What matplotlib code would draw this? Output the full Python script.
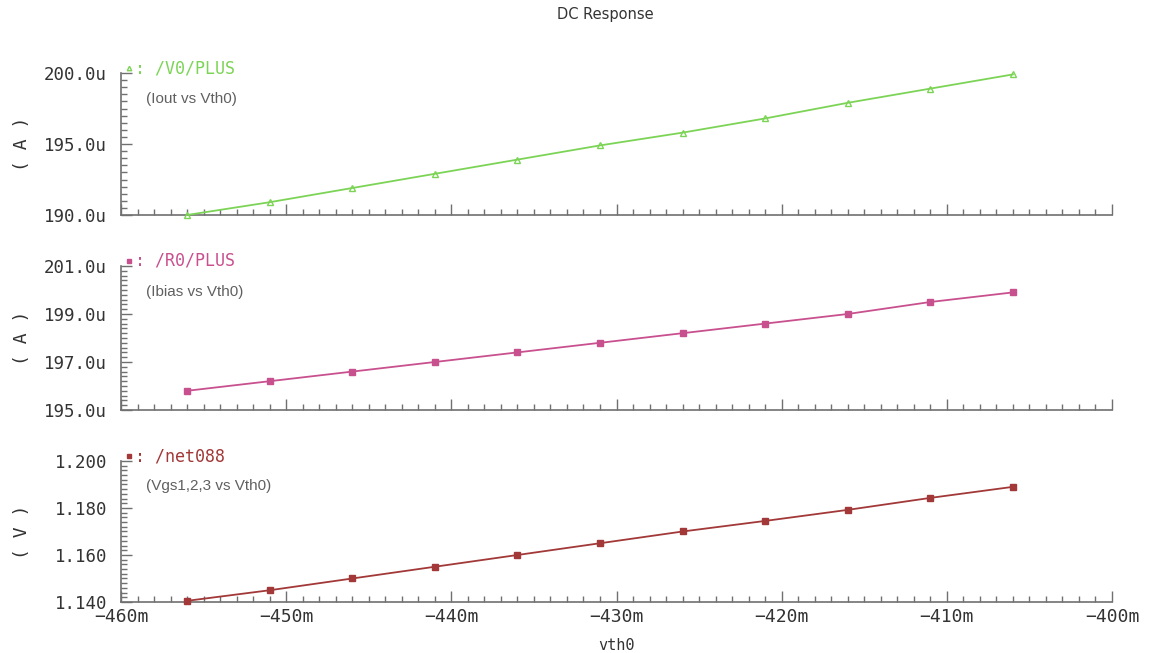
import matplotlib
matplotlib.use("Agg")
import matplotlib.pyplot as plt
from matplotlib.ticker import MultipleLocator, FixedLocator, FuncFormatter

# ---- data ----
vth0_mV = [-456, -451, -446, -441, -436, -431, -426, -421, -416, -411, -406]
iout_uA = [190.0, 190.9, 191.9, 192.9, 193.9, 194.9, 195.8, 196.8, 197.9, 198.9, 199.9]
ibias_uA = [195.8, 196.2, 196.6, 197.0, 197.4, 197.8, 198.2, 198.6, 199.0, 199.5, 199.9]
vgs_V = [1.1405, 1.1450, 1.1500, 1.1550, 1.1600, 1.1650, 1.1700, 1.1745, 1.1792, 1.1843, 1.1890]

x_ticks = [-460, -450, -440, -430, -420, -410, -400]
y_ticks_iout = [190.0, 195.0, 200.0]
y_ticks_ibias = [195.0, 197.0, 199.0, 201.0]
y_ticks_vgs = [1.14, 1.16, 1.18, 1.20]
legend_names = ["/V0/PLUS", "/R0/PLUS", "/net088"]
notes = ["(Iout vs Vth0)", "(Ibias vs Vth0)", "(Vgs1,2,3 vs Vth0)"]
units = ["( A )", "( A )", "( V )"]
colors = ["#7cd456", "#c9508e", "#a23838"]
markers = ["^", "s", "s"]

MONO = "DejaVu Sans Mono"

fig = plt.figure(figsize=(11.68, 6.53), dpi=100)
fig.patch.set_facecolor("white")

L = 121 / 1168
W = 991 / 1168
panels = [
    dict(top=73, bot=215, ylim=(190, 200), ticks=y_ticks_iout, minor=0.5,
         fmt=lambda v, p: f"{v:.1f}u", y=iout_uA),
    dict(top=266, bot=410, ylim=(195, 201), ticks=y_ticks_ibias, minor=0.2,
         fmt=lambda v, p: f"{v:.1f}u", y=ibias_uA),
    dict(top=461, bot=602, ylim=(1.14, 1.20), ticks=y_ticks_vgs, minor=0.002,
         fmt=lambda v, p: f"{v:.3f}", y=vgs_V),
]

spine_col = "#707070"
for i, pn in enumerate(panels):
    ax = fig.add_axes([L, 1 - pn["bot"] / 653, W, (pn["bot"] - pn["top"]) / 653])
    ax.set_xlim(-460, -400)
    ax.set_ylim(*pn["ylim"])
    ax.plot(vth0_mV, pn["y"], color=colors[i], lw=1.3, marker=markers[i],
            ms=3.8, mfc="none" if i == 0 else colors[i], mec=colors[i], mew=1.0,
            clip_on=False, zorder=3)
    for s in ("top", "right"):
        ax.spines[s].set_visible(False)
    for s in ("left", "bottom"):
        ax.spines[s].set_color(spine_col)
        ax.spines[s].set_linewidth(1.2)
    ax.xaxis.set_major_locator(MultipleLocator(10))
    ax.xaxis.set_minor_locator(MultipleLocator(1))
    ax.yaxis.set_major_locator(FixedLocator(pn["ticks"]))
    ax.yaxis.set_minor_locator(MultipleLocator(pn["minor"]))
    ax.tick_params(which="both", direction="in", colors=spine_col, width=1)
    ax.tick_params(which="major", length=8)
    ax.tick_params(which="minor", length=4)
    ax.tick_params(axis="y", labelsize=12.5, labelcolor="#333333", pad=10)
    ax.tick_params(axis="x", labelsize=13, labelcolor="#333333", pad=4)
    ax.yaxis.set_major_formatter(FuncFormatter(pn["fmt"]))
    for t in ax.get_yticklabels():
        t.set_family(MONO)
    if i < 2:
        ax.tick_params(axis="x", labelbottom=False)
    else:
        ax.set_xticks(x_ticks)
        ax.xaxis.set_major_formatter(FuncFormatter(lambda v, p: f"\u2212{abs(v):.0f}m"))
        for t in ax.get_xticklabels():
            t.set_family(MONO)
        ax.set_xlabel("vth0", fontsize=11, family=MONO, color="#333333", labelpad=9)
    ax.set_ylabel(units[i], fontsize=13, family=MONO, color="#333333")
    ax.yaxis.set_label_coords(-0.091, 0.5)
    # legend-like label above the axis
    ax.plot([0.008], [1.035], marker=markers[i], ms=3.2, color=colors[i],
            mfc="none" if i == 0 else colors[i], transform=ax.transAxes, clip_on=False)
    ax.text(0.014, 1.035, ": " + legend_names[i], transform=ax.transAxes,
            fontsize=12, family=MONO, color=colors[i], va="center", ha="left")
    ax.text(0.025, 0.82, notes[i], transform=ax.transAxes, fontsize=11,
            family="Liberation Sans", color="#606060", va="center", ha="left")

fig.text(605 / 1168, 1 - 14 / 653, "DC Response", fontsize=10.5, family="DejaVu Sans",
         color="#333333", ha="center", va="center")

fig.savefig("out.png", dpi=100, facecolor="white")
